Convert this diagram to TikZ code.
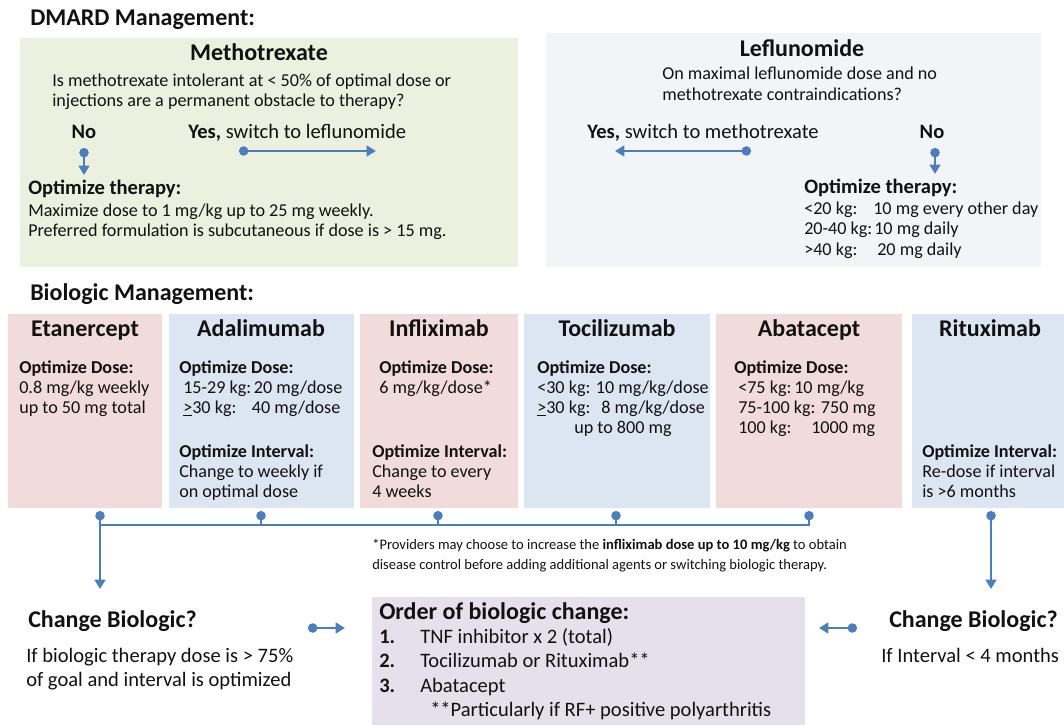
\documentclass[tikz,border=0pt]{standalone}
\usepackage{fontspec}
\setmainfont{Carlito}
\usetikzlibrary{arrows.meta,fit}
\definecolor{mtxbg}{HTML}{EBF1DE}
\definecolor{leflbg}{HTML}{F2F4F7}
\definecolor{pinkbg}{HTML}{F2DCDB}
\definecolor{bluebg}{HTML}{DCE6F2}
\definecolor{lavbg}{HTML}{E5E0EC}
\definecolor{arrowblue}{HTML}{4A7EBF}
\definecolor{ink}{HTML}{111111}
\newcommand\mystack[1]{\begin{tabular}[t]{@{}l@{}}#1\end{tabular}}
\tikzset{
  panel/.style={inner sep=0pt, draw=none},
  hd/.style={inner sep=0pt, font=\fontsize{18}{21}\selectfont\bfseries, text=ink},
  mid/.style={inner sep=0pt, font=\fontsize{15.4}{18.4}\selectfont, text=ink},
  midb/.style={inner sep=0pt, font=\fontsize{15.4}{18.4}\selectfont\bfseries, text=ink},
  txt/.style={inner sep=0pt, font=\fontsize{13.6}{15}\selectfont, text=ink},
  small/.style={inner sep=0pt, font=\fontsize{10.9}{15}\selectfont, text=ink},
  conn/.style={draw=arrowblue, line width=2pt, {Circle[length=7pt]}-{Triangle[length=7pt,width=8pt]}},
  busline/.style={draw=arrowblue, line width=2pt},
  stub/.style={draw=arrowblue, line width=2pt, {Circle[length=7pt]}-},
}
\begin{document}
\begin{tikzpicture}[x=0.75pt,y=-0.75pt]
\useasboundingbox (0,0) rectangle (1064,725);

% ---------- panels ----------
\node[panel, fill=mtxbg,  fit={(20,38) (518,267)}] (mtx) {};
\node[panel, fill=leflbg, fit={(546,33) (1041,267)}] (lefl) {};
\node[panel, fill=pinkbg, fit={(8,314) (162,508)}] (eta) {};
\node[panel, fill=bluebg, fit={(169,314) (354,508)}] (ada) {};
\node[panel, fill=pinkbg, fit={(360,314) (518,508)}] (inf) {};
\node[panel, fill=bluebg, fit={(524,314) (710,508)}] (toc) {};
\node[panel, fill=pinkbg, fit={(716,314) (902,508)}] (aba) {};
\node[panel, fill=bluebg, fit={(912,314) (1064,508)}] (rit) {};
\node[panel, fill=lavbg,  fit={(372,597) (805,725)}] (ord) {};

% ---------- DMARD ----------
\node[hd, anchor=base west] (dmardT) at (30,25) {DMARD Management:};

\node[hd, anchor=base] (mtxT) at (259,60) {Methotrexate};
\node[txt, anchor=base west] (mtxQ) at (52,86) {\mystack{Is methotrexate intolerant at < 50\% of optimal dose or\\injections are a permanent obstacle to therapy?}};
\node[midb, anchor=base] (mtxNo) at (84,138) {No};
\node[mid, anchor=base west] (mtxYes) at (188,138) {\textbf{Yes,} switch to leflunomide};
\node[midb, anchor=base west] (mtxOpt) at (28,194) {Optimize therapy:};
\node[txt, anchor=base west] (mtxBody) at (28,216) {\mystack{Maximize dose to 1 mg/kg up to 25 mg weekly.\\Preferred formulation is subcutaneous if dose is > 15 mg.}};
\coordinate (mtxNoS) at (84,148);
\coordinate (mtxNoE) at (84,175);
\coordinate (mtxYesS) at (239,151);
\coordinate (mtxYesE) at (376,151);
\draw[conn] (mtxNoS) -- (mtxNoE);
\draw[conn] (mtxYesS) -- (mtxYesE);

\node[hd, anchor=base] (leflT) at (802,56) {Leflunomide};
\node[txt, font=\fontsize{13.6}{15.75}\selectfont, anchor=base west] (leflQ) at (662,79) {\mystack{On maximal leflunomide dose and no\\methotrexate contraindications?}};
\node[mid, anchor=base west] (leflYes) at (587,138) {\textbf{Yes,} switch to methotrexate};
\node[midb, anchor=base] (leflNo) at (932,138) {No};
\coordinate (leflYesS) at (751,151);
\coordinate (leflYesE) at (615,151);
\coordinate (leflNoS) at (935,148);
\coordinate (leflNoE) at (935,174);
\draw[conn] (leflYesS) -- (leflYesE);
\draw[conn] (leflNoS) -- (leflNoE);
\node[midb, anchor=base west] (leflOpt) at (804,193) {Optimize therapy:};
\node[txt, font=\fontsize{13.6}{15.4}\selectfont, anchor=base west] (leflBody) at (804,214) {\mystack{\makebox[51.75pt][l]{<20 kg:}10 mg every other day\\\makebox[52.5pt][l]{20-40 kg:}10 mg daily\\\makebox[54.75pt][l]{>40 kg:}20 mg daily}};

% ---------- Biologic ----------
\node[hd, anchor=base west] (bioT) at (30,300) {Biologic Management:};
\node[hd, anchor=base] (etaT) at (85,336) {Etanercept};
\node[hd, anchor=base] (adaT) at (261,336) {Adalimumab};
\node[hd, anchor=base] (infT) at (439,336) {Infliximab};
\node[hd, anchor=base] (tocT) at (617,336) {Tocilizumab};
\node[hd, anchor=base] (abaT) at (809,336) {Abatacept};
\node[hd, anchor=base] (ritT) at (990,336) {Rituximab};

\node[txt, anchor=base west] (etaDose) at (19,373) {\mystack{\textbf{Optimize Dose:}\\0.8 mg/kg weekly\\up to 50 mg total}};
\node[txt, anchor=base west] (adaDose) at (179,373) {\mystack{\textbf{Optimize Dose:}\\\hspace{3pt}\makebox[53pt][l]{15-29 kg:}20 mg/dose\\\hspace{3pt}\makebox[51.5pt][l]{\underline{>}30 kg:}40 mg/dose}};
\node[txt, anchor=base west] (adaInt) at (179,457) {\mystack{\textbf{Optimize Interval:}\\Change to weekly if\\on optimal dose}};
\node[txt, anchor=base west] (infDose) at (379,373) {\mystack{\textbf{Optimize Dose:}\\6 mg/kg/dose*}};
\node[txt, anchor=base west] (infInt) at (372,457) {\mystack{\textbf{Optimize Interval:}\\Change to every\\4 weeks}};
\node[txt, anchor=base west] (tocDose) at (537,373) {\mystack{\textbf{Optimize Dose:}\\<30 kg: 10 mg/kg/dose\\\makebox[48pt][l]{\underline{>}30 kg:}8 mg/kg/dose\\\hspace{27.75pt}up to 800 mg}};
\node[txt, anchor=base west] (abaDose) at (734,373) {\mystack{\textbf{Optimize Dose:}\\\hspace{3pt}\makebox[42pt][l]{<75 kg:}10 mg/kg\\\hspace{3pt}75-100 kg: 750 mg\\\hspace{3pt}\makebox[54.75pt][l]{100 kg:}1000 mg}};
\node[txt, anchor=base west] (ritInt) at (922,457) {\mystack{\textbf{Optimize Interval:}\\Re-dose if interval\\is >6 months}};

% ---------- connectors ----------
\coordinate (bus) at (0,525);
\coordinate (etaD) at (100,511);
\coordinate (adaD) at (261,511);
\coordinate (infD) at (438,511);
\coordinate (tocD) at (616,511);
\coordinate (abaD) at (809,511);
\coordinate (ritD) at (991,511);
\coordinate (etaEnd) at (100,589);
\coordinate (ritEnd) at (991,589);
\draw[busline] (etaD |- bus) -- (abaD |- bus) -- (abaD);
\draw[conn] (etaD) -- (etaEnd);
\draw[stub] (adaD) -- (adaD |- bus);
\draw[stub] (infD) -- (infD |- bus);
\draw[stub] (tocD) -- (tocD |- bus);
\draw[stub] (abaD) -- (abaD |- bus);
\draw[conn] (ritD) -- (ritEnd);

\node[small, anchor=base west] (foot) at (372,549) {\mystack{*Providers may choose to increase the \textbf{infliximab dose up to 10 mg/kg} to obtain\\disease control before adding additional agents or switching biologic therapy.}};

% ---------- bottom ----------
\node[hd, anchor=base west] (chgL) at (28,627) {Change Biologic?};
\node[mid, anchor=base west] (chgLT) at (26,662) {\mystack{If biologic therapy dose is > 75\%\\of goal and interval is optimized}};
\coordinate (lArrS) at (308,628);
\coordinate (lArrE) at (345,628);
\draw[conn] (lArrS) -- (lArrE);

\node[hd, anchor=base west] (ordT) at (379,619) {Order of biologic change:};
\node[mid, anchor=base west] (ordL) at (379,643) {\mystack{\makebox[30.75pt][l]{\textbf{1.}}TNF inhibitor x 2 (total)\\\makebox[30.75pt][l]{\textbf{2.}}Tocilizumab or Rituximab**\\\makebox[30.75pt][l]{\textbf{3.}}Abatacept\\\hspace{38.25pt}**Particularly if RF+ positive polyarthritis}};

\coordinate (rArrS) at (857,628);
\coordinate (rArrE) at (819,628);
\draw[conn] (rArrS) -- (rArrE);
\node[hd, anchor=base west] (chgR) at (889,627) {Change Biologic?};
\node[mid, anchor=base west] (chgRT) at (881,662) {If Interval < 4 months};
\end{tikzpicture}
\end{document}
